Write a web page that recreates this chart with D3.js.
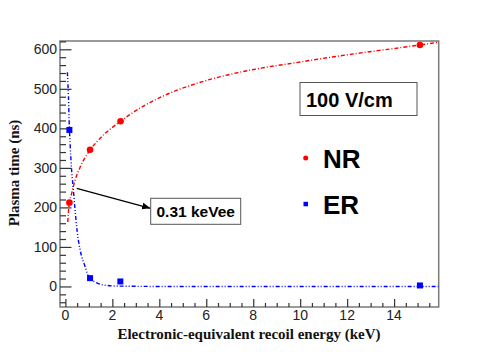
<!DOCTYPE html>
<html><head><meta charset="utf-8">
<script src="https://cdn.jsdelivr.net/npm/d3@7"></script>
<style>body{margin:0;background:#fff}svg{display:block}</style>
</head><body>
<svg id="c" width="498" height="352"></svg>
<script>
// Data points
const nrE = [0.17, 1.05, 2.35, 15.1];
const nrT = [212, 346, 418, 611];
const erE = [0.17, 1.05, 2.34, 15.1];
const erT = [396, 21, 12.6, 2.5];
// Fit curves
const nrFitE = [0.1, 0.16, 0.27, 0.41, 0.63, 1.05, 1.4, 2.35, 3.2, 4.1, 5.5, 6.9, 8.4, 9.8, 11.2, 12.6, 14.0, 15.1, 15.9];
const nrFitT = [163, 208, 236, 268, 302, 345, 370, 418, 452, 480, 512, 535, 553, 566, 579, 591, 602, 611, 618];
const erFitE = [0.085, 0.13, 0.17, 0.2, 0.27, 0.34, 0.41, 0.5, 0.63, 0.84, 0.98, 1.34, 1.7, 2.2, 4, 8, 12, 15.9];
const erFitT = [542, 480, 400, 362, 290, 244, 195, 140, 92, 50, 26, 9, 3, 1, 0, 0, 0, 0];
const xTicks = [0, 2, 4, 6, 8, 10, 12, 14];
const yTicks = [0, 100, 200, 300, 400, 500, 600];
const crossLabel = "0.31 keVee";
const fieldLabel = "100 V/cm";
const legendLabels = ["NR", "ER"];

const svg = d3.select("#c");
const L = 60, R = 438.7, T = 41, B = 307;
const x = d3.scaleLinear().domain([-0.23, 15.9]).range([L, R]);
const y = d3.scaleLinear().domain([-52, 621]).range([B, T]);

const clip = svg.append("defs").append("clipPath").attr("id","pc")
  .append("rect").attr("x",L).attr("y",T).attr("width",R-L).attr("height",B-T);

// Frame
svg.append("rect").attr("x",L).attr("y",T).attr("width",R-L).attr("height",B-T)
  .attr("fill","none").attr("stroke","#7a7a7a").attr("stroke-width",1.5);

// Y axis ticks (inward)
const yAxis = d3.axisRight(y).tickValues(yTicks).tickSize(11.5).tickFormat("");
const gy = svg.append("g").attr("transform",`translate(${L},0)`).call(yAxis);
const yMinor = d3.range(-40, 621, 20).filter(v => v % 100 !== 0);
const gym = svg.append("g").attr("transform",`translate(${L},0)`)
  .call(d3.axisRight(y).tickValues(yMinor).tickSize(6).tickFormat(""));
[gy, gym].forEach(g => { g.select(".domain").remove(); g.selectAll("line").attr("stroke","#333").attr("stroke-width",1.2); });
svg.append("g").selectAll("text").data(yTicks).join("text")
  .attr("x", L-3).attr("y", d => y(d)).attr("dy","0.36em")
  .attr("text-anchor","end").attr("font-family","Liberation Sans, Arial, sans-serif")
  .attr("font-size",14).attr("fill","#222").text(d => d);

// X axis ticks (inward)
const gx = svg.append("g").attr("transform",`translate(0,${B})`)
  .call(d3.axisTop(x).tickValues(xTicks).tickSize(8).tickFormat(""));
const xMinor = d3.range(0.5, 15.9, 0.5).filter(v => v % 2 !== 0);
const gxm = svg.append("g").attr("transform",`translate(0,${B})`)
  .call(d3.axisTop(x).tickValues(xMinor).tickSize(4).tickFormat(""));
[gx, gxm].forEach(g => { g.select(".domain").remove(); g.selectAll("line").attr("stroke","#333").attr("stroke-width",1.2); });
svg.append("g").selectAll("text").data(xTicks).join("text")
  .attr("x", d => x(d)).attr("y", B+13)
  .attr("text-anchor","middle").attr("font-family","Liberation Sans, Arial, sans-serif")
  .attr("font-size",14).attr("fill","#222").text(d => d);

// Axis titles
svg.append("text").attr("x", 249).attr("y", 339).attr("text-anchor","middle")
  .attr("font-family","Liberation Serif, Times New Roman, serif").attr("font-weight","bold")
  .attr("font-size",15).attr("fill","#111").text("Electronic-equivalent recoil energy (keV)");
svg.append("text").attr("transform","translate(19,173) rotate(-90)").attr("text-anchor","middle")
  .attr("font-family","Liberation Serif, Times New Roman, serif").attr("font-weight","bold")
  .attr("font-size",15).attr("fill","#111").text("Plasma time (ns)");

// Fit curves
const line = d3.line().x(d => x(d[0])).y(d => y(d[1])).curve(d3.curveMonotoneX);
const pg = svg.append("g").attr("clip-path","url(#pc)");
pg.append("path").datum(d3.zip(nrFitE, nrFitT)).attr("d", line)
  .attr("fill","none").attr("stroke","#ff0000").attr("stroke-width",1.4)
  .attr("stroke-dasharray","4,2,1,2");
pg.append("path").datum(d3.zip(erFitE, erFitT)).attr("d", line)
  .attr("fill","none").attr("stroke","#0000ff").attr("stroke-width",1.4)
  .attr("stroke-dasharray","4,2,1,2,1,2");

// Markers
pg.selectAll("circle.nr").data(d3.zip(nrE, nrT)).join("circle").attr("class","nr")
  .attr("cx", d => x(d[0])).attr("cy", d => y(d[1])).attr("r",3.3).attr("fill","#ff0000");
pg.selectAll("rect.er").data(d3.zip(erE, erT)).join("rect").attr("class","er")
  .attr("x", d => x(d[0])-3).attr("y", d => y(d[1])-3).attr("width",6).attr("height",6).attr("fill","#0000ff");

// Field label box
svg.append("rect").attr("x",300).attr("y",82.5).attr("width",117).attr("height",33)
  .attr("fill","#fff").attr("stroke","#555").attr("stroke-width",1);
svg.append("text").attr("x",306).attr("y",106.5).attr("font-family","Liberation Sans, Arial, sans-serif")
  .attr("font-weight","bold").attr("font-size",20).attr("fill","#000").text(fieldLabel);

// Legend
svg.append("circle").attr("cx",305.7).attr("cy",158).attr("r",2.5).attr("fill","#ff0000");
svg.append("rect").attr("x",303.5).attr("y",201.8).attr("width",4.5).attr("height",4.5).attr("fill","#0000ff");
svg.append("text").attr("x",323).attr("y",167.5).attr("font-family","Liberation Sans, Arial, sans-serif")
  .attr("font-weight","bold").attr("font-size",26).attr("fill","#000").text(legendLabels[0]);
svg.append("text").attr("x",323).attr("y",214).attr("font-family","Liberation Sans, Arial, sans-serif")
  .attr("font-weight","bold").attr("font-size",26).attr("fill","#000").text(legendLabels[1]);

// Crossing annotation
svg.append("defs").append("marker").attr("id","ah").attr("viewBox","0 0 10 10")
  .attr("refX",10).attr("refY",5).attr("markerWidth",7).attr("markerHeight",7)
  .attr("orient","auto").append("path").attr("d","M0,1L10,5L0,9Z").attr("fill","#000");
svg.append("line").attr("x1",76.7).attr("y1",188.3).attr("x2",150.5).attr("y2",208.3)
  .attr("stroke","#000").attr("stroke-width",1.2).attr("marker-end","url(#ah)");
svg.append("rect").attr("x",150.7).attr("y",198.3).attr("width",90).attr("height",26)
  .attr("fill","#fff").attr("stroke","#555").attr("stroke-width",1);
svg.append("text").attr("x",156.5).attr("y",216.8).attr("font-family","Liberation Sans, Arial, sans-serif")
  .attr("font-weight","bold").attr("font-size",15.5).attr("fill","#000").text(crossLabel);
</script>
</body></html>
